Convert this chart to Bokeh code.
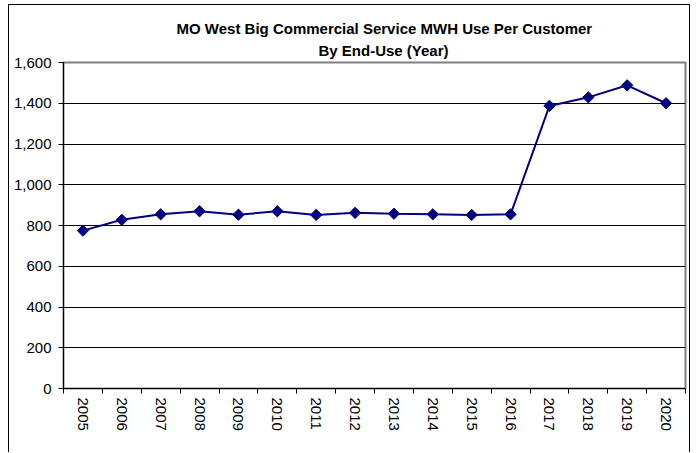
import math
from bokeh.plotting import figure
from bokeh.models import Range1d, FixedTicker, NumeralTickFormatter, ColumnDataSource, Title
from bokeh.embed import file_html
from bokeh.resources import INLINE

years = ["2005", "2006", "2007", "2008", "2009", "2010", "2011", "2012",
         "2013", "2014", "2015", "2016", "2017", "2018", "2019", "2020"]
mwh_per_customer = [775, 828, 855, 870, 853, 870, 852, 862,
                    858, 855, 852, 855, 1387, 1429, 1488, 1400]
y_ticks = [0, 200, 400, 600, 800, 1000, 1200, 1400, 1600]
title_lines = ["MO West Big Commercial Service MWH Use Per Customer", "By End-Use (Year)"]

FONT = "Liberation Sans"
NAVY = "#000080"

pos = [i + 0.5 for i in range(len(years))]
src = ColumnDataSource(dict(x=pos, y=mwh_per_customer, year=years))

p = figure(width=682, height=448, output_backend="svg", toolbar_location=None,
           x_range=Range1d(0, len(years)), y_range=Range1d(y_ticks[0], y_ticks[-1]),
           min_border_left=54, min_border_right=6, min_border_top=57, min_border_bottom=65)
p.styles = {"margin-left": "8px", "margin-top": "4px",
            "border-left": "1px solid black", "border-top": "1px solid black",
            "border-right": "1px solid black"}

# two title lines (second line closest to the plot), left-aligned with offsets so
# that each line is centred slightly right of the plot centre, as in the original
for text, standoff, offset in ((title_lines[1], 7, 255), (title_lines[0], 0, 113)):
    p.add_layout(Title(text=text, align="left", offset=offset, text_font=FONT,
                       text_font_size="15px", text_font_style="bold", text_color="black",
                       text_line_height=0.85, standoff=standoff), "above")

p.outline_line_color = "#808080"
p.outline_line_width = 2
p.background_fill_color = "white"
p.border_fill_color = "white"

p.xgrid.visible = False
p.ygrid.ticker = FixedTicker(ticks=y_ticks[1:-1])
p.ygrid.grid_line_color = "black"
p.ygrid.grid_line_width = 1

ya = p.yaxis[0]
ya.ticker = FixedTicker(ticks=y_ticks)
ya.formatter = NumeralTickFormatter(format="0,0")
ya.major_tick_out = 5
ya.major_tick_in = 0
ya.minor_tick_line_color = None
ya.axis_line_color = "black"
ya.major_tick_line_color = "black"
ya.major_label_text_font = FONT
ya.major_label_text_font_size = "15px"
ya.major_label_text_color = "black"
ya.major_label_standoff = 7

xa = p.xaxis[0]
xa.ticker = FixedTicker(ticks=pos, minor_ticks=list(range(len(years) + 1)))
xa.major_label_overrides = {x: y for x, y in zip(pos, years)}
xa.major_tick_out = 0
xa.major_tick_in = 0
xa.minor_tick_out = 5
xa.minor_tick_in = 0
xa.minor_tick_line_color = "black"
xa.axis_line_color = "black"
xa.major_label_orientation = -math.pi / 2
xa.major_label_text_font = FONT
xa.major_label_text_font_size = "15px"
xa.major_label_text_color = "black"
xa.major_label_standoff = 4

p.line("x", "y", source=src, line_color=NAVY, line_width=2)
p.scatter("x", "y", source=src, marker="square", angle=math.pi / 4, size=8,
          fill_color=NAVY, line_color=NAVY)

open("out.html", "w").write(file_html(p, INLINE))
